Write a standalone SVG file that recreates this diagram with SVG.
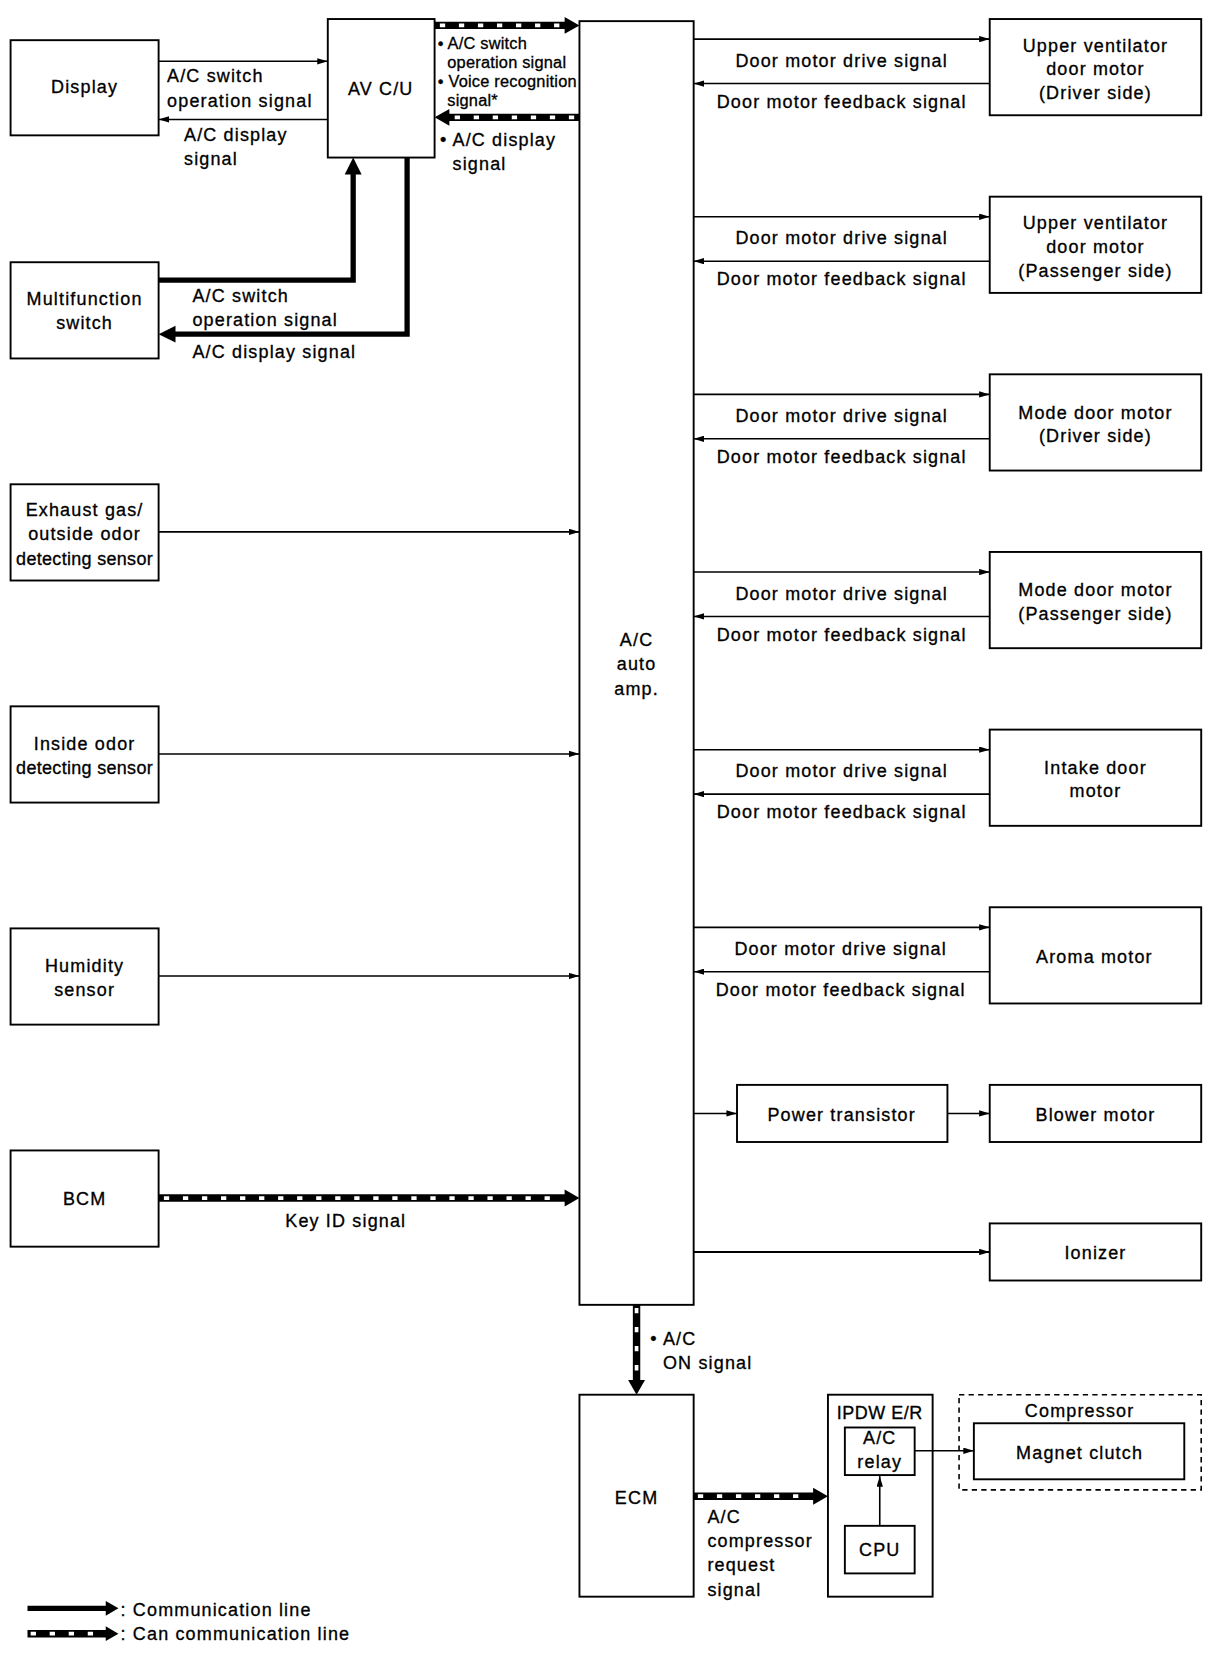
<svg xmlns="http://www.w3.org/2000/svg" width="1216" height="1660" viewBox="0 0 1216 1660">
<style>
text{font-family:"Liberation Sans",Arial,sans-serif;font-size:17px;letter-spacing:1.1px;fill:#000;stroke:#000;stroke-width:0.3}
.m{text-anchor:middle}
.sm{font-size:15.5px;letter-spacing:0.2px}
.box{fill:#fff;stroke:#000;stroke-width:1.8}
.thin{stroke:#000;stroke-width:1.5;fill:none}
.thick{stroke:#000;stroke-width:5;fill:none}
.canb{stroke:#000;stroke-width:7;fill:none}
.canw{stroke:#fff;stroke-width:3.5;stroke-dasharray:5 13;fill:none}
.dash{fill:none;stroke:#000;stroke-width:1.5;stroke-dasharray:5 4}
</style>
<defs>
<marker id="a" viewBox="0 0 10 6" refX="10" refY="3" markerWidth="10" markerHeight="6" markerUnits="userSpaceOnUse" orient="auto">
<path d="M0,0 L10,3 L0,6 z" fill="#000"/>
</marker>
</defs>
<rect width="1216" height="1660" fill="#fff"/>
<g transform="scale(1.0574)">

<g id="display"><rect class="box" x="10" y="38" width="140" height="90"/><text class="m" x="80" y="88">Display</text></g>
<g id="multifunction"><rect class="box" x="10" y="248" width="140" height="91"/><text class="m" x="80" y="288">Multifunction</text><text class="m" x="80" y="311">switch</text></g>
<g id="exhaust"><rect class="box" x="10" y="458" width="140" height="91"/><text class="m" x="80" y="488">Exhaust gas/</text><text class="m" x="80" y="511">outside odor</text><text class="m" x="80" y="534" style="letter-spacing:0.3px">detecting sensor</text></g>
<g id="inside"><rect class="box" x="10" y="668" width="140" height="91"/><text class="m" x="80" y="709">Inside odor</text><text class="m" x="80" y="732" style="letter-spacing:0.3px">detecting sensor</text></g>
<g id="humidity"><rect class="box" x="10" y="878" width="140" height="91"/><text class="m" x="80" y="919">Humidity</text><text class="m" x="80" y="942">sensor</text></g>
<g id="bcm"><rect class="box" x="10" y="1088" width="140" height="91"/><text class="m" x="80" y="1140">BCM</text></g>

<g id="avcu"><rect class="box" x="310" y="18" width="101" height="131"/><text class="m" x="360" y="90">AV C/U</text></g>
<g id="amp"><rect class="box" x="548" y="20" width="108" height="1214"/><text class="m" x="602" y="611">A/C</text><text class="m" x="602" y="634">auto</text><text class="m" x="602" y="657">amp.</text></g>

<g id="uv-driver"><rect class="box" x="936" y="18" width="200" height="91"/><text class="m" x="1036" y="49">Upper ventilator</text><text class="m" x="1036" y="71">door motor</text><text class="m" x="1036" y="94">(Driver side)</text></g>
<g id="uv-pass"><rect class="box" x="936" y="186" width="200" height="91"/><text class="m" x="1036" y="217">Upper ventilator</text><text class="m" x="1036" y="239">door motor</text><text class="m" x="1036" y="262">(Passenger side)</text></g>
<g id="mode-driver"><rect class="box" x="936" y="354" width="200" height="91"/><text class="m" x="1036" y="396">Mode door motor</text><text class="m" x="1036" y="418">(Driver side)</text></g>
<g id="mode-pass"><rect class="box" x="936" y="522" width="200" height="91"/><text class="m" x="1036" y="564">Mode door motor</text><text class="m" x="1036" y="586">(Passenger side)</text></g>
<g id="intake"><rect class="box" x="936" y="690" width="200" height="91"/><text class="m" x="1036" y="732">Intake door</text><text class="m" x="1036" y="754">motor</text></g>
<g id="aroma"><rect class="box" x="936" y="858" width="200" height="91"/><text class="m" x="1035" y="911">Aroma motor</text></g>
<g id="power-transistor"><rect class="box" x="697" y="1026" width="199" height="54"/><text class="m" x="796" y="1060">Power transistor</text></g>
<g id="blower"><rect class="box" x="936" y="1026" width="200" height="54"/><text class="m" x="1036" y="1060">Blower motor</text></g>
<g id="ionizer"><rect class="box" x="936" y="1157" width="200" height="54"/><text class="m" x="1036" y="1191">Ionizer</text></g>

<g id="ecm"><rect class="box" x="548" y="1319" width="108" height="191"/><text class="m" x="602" y="1422">ECM</text></g>
<g id="ipdw"><rect class="box" x="783" y="1319" width="99" height="191"/><text class="m" x="832" y="1342" style="letter-spacing:0.5px">IPDW E/R</text></g>
<g id="relay"><rect class="box" x="799" y="1350" width="66" height="45"/><text class="m" x="832" y="1366">A/C</text><text class="m" x="832" y="1388">relay</text></g>
<g id="cpu"><rect class="box" x="799" y="1443" width="66" height="45"/><text class="m" x="832" y="1472">CPU</text></g>
<g id="compressor"><rect class="dash" x="907" y="1319" width="229" height="90"/><text class="m" x="1021" y="1340">Compressor</text></g>
<g id="magnet"><rect class="box" x="921" y="1346" width="199" height="53"/><text class="m" x="1021" y="1380">Magnet clutch</text></g>

<g id="connectors">
<line class="thin" x1="150" y1="58" x2="310" y2="58" marker-end="url(#a)"/>
<line class="thin" x1="310" y1="113" x2="150" y2="113" marker-end="url(#a)"/>
<polyline class="thick" points="150,265 334,265 334,163"/>
<polygon points="326,165 334,149 342,165"/>
<polyline class="thick" points="385,149 385,316 164,316"/>
<polygon points="166,308 150,316 166,324"/>
<g>
<line class="canb" x1="411" y1="24" x2="535" y2="24"/>
<line class="canw" x1="416" y1="24" x2="530" y2="24"/>
<polygon points="534,16 548,24 534,32"/>
</g>
<g>
<line class="canb" x1="424" y1="111" x2="548" y2="111"/>
<line class="canw" x1="430" y1="111" x2="546" y2="111"/>
<polygon points="425,103 411,111 425,119"/>
</g>
<line class="thin" x1="150" y1="503" x2="548" y2="503" marker-end="url(#a)"/>
<line class="thin" x1="150" y1="713" x2="548" y2="713" marker-end="url(#a)"/>
<line class="thin" x1="150" y1="923" x2="548" y2="923" marker-end="url(#a)"/>
<g>
<line class="canb" x1="150" y1="1133" x2="535" y2="1133"/>
<line class="canw" x1="155" y1="1133" x2="530" y2="1133"/>
<polygon points="534,1125 548,1133 534,1141"/>
</g>
<line class="thin" x1="656" y1="37" x2="936" y2="37" marker-end="url(#a)"/>
<line class="thin" x1="936" y1="79" x2="656" y2="79" marker-end="url(#a)"/>
<line class="thin" x1="656" y1="205" x2="936" y2="205" marker-end="url(#a)"/>
<line class="thin" x1="936" y1="247" x2="656" y2="247" marker-end="url(#a)"/>
<line class="thin" x1="656" y1="373" x2="936" y2="373" marker-end="url(#a)"/>
<line class="thin" x1="936" y1="415" x2="656" y2="415" marker-end="url(#a)"/>
<line class="thin" x1="656" y1="541" x2="936" y2="541" marker-end="url(#a)"/>
<line class="thin" x1="936" y1="583" x2="656" y2="583" marker-end="url(#a)"/>
<line class="thin" x1="656" y1="709" x2="936" y2="709" marker-end="url(#a)"/>
<line class="thin" x1="936" y1="751" x2="656" y2="751" marker-end="url(#a)"/>
<line class="thin" x1="656" y1="877" x2="936" y2="877" marker-end="url(#a)"/>
<line class="thin" x1="936" y1="919" x2="656" y2="919" marker-end="url(#a)"/>
<line class="thin" x1="656" y1="1053" x2="697" y2="1053" marker-end="url(#a)"/>
<line class="thin" x1="896" y1="1053" x2="936" y2="1053" marker-end="url(#a)"/>
<line class="thin" style="stroke-width:2" x1="656" y1="1184" x2="936" y2="1184" marker-end="url(#a)"/>
<g>
<line class="canb" x1="602" y1="1234" x2="602" y2="1306"/>
<line class="canw" x1="602" y1="1237" x2="602" y2="1302"/>
<polygon points="594,1305 602,1319 610,1305"/>
</g>
<g>
<line class="canb" x1="656" y1="1415" x2="770" y2="1415"/>
<line class="canw" x1="660" y1="1415" x2="765" y2="1415"/>
<polygon points="769,1407 783,1415 769,1423"/>
</g>
<line class="thin" x1="832" y1="1443" x2="832" y2="1396" marker-end="url(#a)"/>
<line class="thin" x1="865" y1="1372" x2="921" y2="1372" marker-end="url(#a)"/>
</g>

<g id="labels">
<text x="158" y="78">A/C switch</text>
<text x="158" y="101">operation signal</text>
<text x="174" y="133">A/C display</text>
<text x="174" y="156">signal</text>
<text x="182" y="286">A/C switch</text>
<text x="182" y="308">operation signal</text>
<text x="182" y="339">A/C display signal</text>
<text class="sm" x="414" y="46">• A/C switch</text>
<text class="sm" x="423" y="64">operation signal</text>
<text class="sm" x="414" y="82">• Voice recognition</text>
<text class="sm" x="423" y="100">signal*</text>
<text x="416" y="138">• A/C display</text>
<text x="428" y="161">signal</text>
<text class="m" x="327" y="1160">Key ID signal</text>
<text x="615" y="1272">• A/C</text>
<text x="627" y="1295">ON signal</text>
<text x="669" y="1440">A/C</text>
<text x="669" y="1463">compressor</text>
<text x="669" y="1486">request</text>
<text x="669" y="1509">signal</text>
<text class="m" x="796" y="63">Door motor drive signal</text>
<text class="m" x="796" y="102">Door motor feedback signal</text>
<text class="m" x="796" y="231">Door motor drive signal</text>
<text class="m" x="796" y="270">Door motor feedback signal</text>
<text class="m" x="796" y="399">Door motor drive signal</text>
<text class="m" x="796" y="438">Door motor feedback signal</text>
<text class="m" x="796" y="567">Door motor drive signal</text>
<text class="m" x="796" y="606">Door motor feedback signal</text>
<text class="m" x="796" y="735">Door motor drive signal</text>
<text class="m" x="796" y="774">Door motor feedback signal</text>
<text class="m" x="795" y="903">Door motor drive signal</text>
<text class="m" x="795" y="942">Door motor feedback signal</text>
</g>

<g id="legend">
<line class="thick" x1="26" y1="1521" x2="101" y2="1521"/>
<polygon points="100,1514 112,1521 100,1528"/>
<text x="114" y="1528">: Communication line</text>
<line class="canb" x1="26" y1="1545" x2="101" y2="1545"/>
<line class="canw" x1="29" y1="1545" x2="98" y2="1545"/>
<polygon points="100,1538 112,1545 100,1552"/>
<text x="114" y="1551">: Can communication line</text>
</g>
</g>
</svg>
